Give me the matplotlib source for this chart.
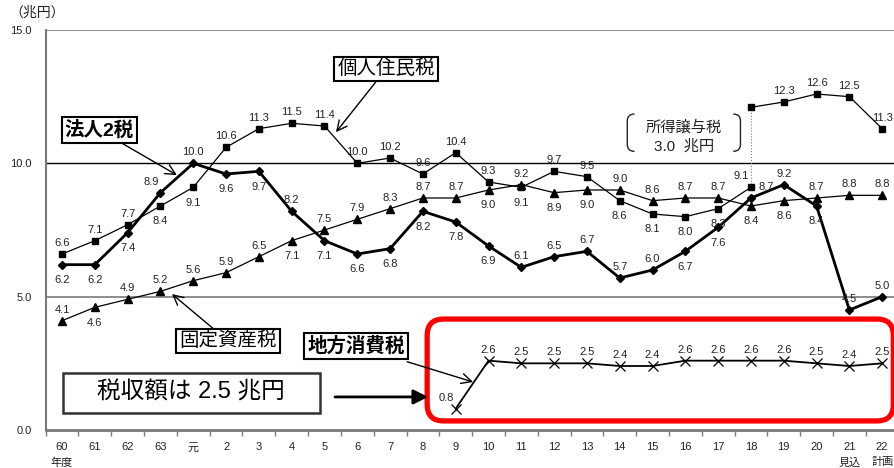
import numpy as np
import matplotlib.pyplot as plt
from matplotlib.patches import FancyBboxPatch, Rectangle, PathPatch
from matplotlib.path import Path

plt.rcParams['font.family'] = ['Liberation Sans', 'Noto Sans CJK JP']

# x categories (fiscal years)
years = ['60\n年度', '61', '62', '63', '元', '2', '3', '4', '5', '6', '7', '8', '9',
         '10', '11', '12', '13', '14', '15', '16', '17', '18', '19', '20',
         '21\n見込', '22\n計画']
nan = np.nan
# 個人住民税
resident = [6.6, 7.1, 7.7, 8.4, 9.1, 10.6, 11.3, 11.5, 11.4, 10.0, 10.2, 9.6, 10.4,
            9.3, 9.1, 9.7, 9.5, 8.6, 8.1, 8.0, 8.3, 9.1, nan, nan, nan, nan]
# 個人住民税 + 所得譲与税
resident_transfer = [nan] * 21 + [12.1, 12.3, 12.6, 12.5, 11.3]
# 法人2税
corporate = [6.2, 6.2, 7.4, 8.9, 10.0, 9.6, 9.7, 8.2, 7.1, 6.6, 6.8, 8.2, 7.8,
             6.9, 6.1, 6.5, 6.7, 5.7, 6.0, 6.7, 7.6, 8.7, 9.2, 8.4, 4.5, 5.0]
# 固定資産税
property_tax = [4.1, 4.6, 4.9, 5.2, 5.6, 5.9, 6.5, 7.1, 7.5, 7.9, 8.3, 8.7, 8.7,
                9.0, 9.2, 8.9, 9.0, 9.0, 8.6, 8.7, 8.7, 8.4, 8.6, 8.7, 8.8, 8.8]
# 地方消費税
consumption = [nan] * 12 + [0.8, 2.6, 2.5, 2.5, 2.5, 2.4, 2.4, 2.6, 2.6, 2.6,
                            2.6, 2.5, 2.4, 2.5]

# label placement: a=above, b=below, al=above left, ar=above right, n=none
resident_pos = ['a', 'a', 'a', 'b', 'b', 'a', 'a', 'a', 'a', 'a', 'a', 'a', 'a',
                'a', 'b', 'a', 'a', 'b', 'b', 'b', 'b', 'al']
transfer_pos = ['n', 'a', 'a', 'a', 'a']
corporate_pos = ['b', 'b', 'b', 'al', 'a', 'b', 'b', 'a', 'b', 'b', 'b', 'b', 'b',
                 'b', 'a', 'a', 'a', 'a', 'a', 'b', 'b', 'ar', 'a', 'b', 'a', 'a']
property_pos = ['a', 'b', 'a', 'a', 'a', 'a', 'a', 'b', 'a', 'a', 'a', 'a', 'a',
                'b', 'a', 'b', 'b', 'a', 'a', 'a', 'a', 'b', 'b', 'a', 'a', 'a']
consumption_pos = ['al'] + ['a'] * 13

offsets = {'a': (0, 8), 'b': (0, -11), 'al': (-7, 8), 'ar': (11, 8)}

x = np.arange(len(years))

fig = plt.figure(figsize=(8.95, 4.68), dpi=100)
ax = fig.add_axes([0.051, 0.0812, 0.953, 0.8547])
ax.set_xlim(-0.5, 25.5)
ax.set_ylim(0, 15)

gray = '#7a7a7a'
ax.axhline(5, color=gray, lw=1.2, zorder=1)
ax.axhline(15, color=gray, lw=1.2, zorder=1)
ax.axhline(10, color='black', lw=1.0, zorder=1)

ax.plot(x, resident, color='black', lw=0.9, marker='s', ms=5, zorder=3)
ax.plot(x, resident_transfer, color='black', lw=0.9, marker='s', ms=5, zorder=3)
ax.vlines(21, resident[21], resident_transfer[21], color=gray, lw=0.8,
          linestyles=':', zorder=2)
ax.plot(x, corporate, color='black', lw=2.0, marker='D', ms=4, zorder=4)
ax.plot(x, property_tax, color='black', lw=0.9, marker='^', ms=6, zorder=3)
ax.plot(x, consumption, color='black', lw=1.3, marker='x', ms=7, mew=0.9, zorder=3)


def put_labels(vals, pos, start=0):
    for i, p in enumerate(pos):
        v = vals[start + i]
        if p == 'n' or np.isnan(v):
            continue
        ax.annotate('%.1f' % v, (start + i, v), xytext=offsets[p],
                    textcoords='offset points', ha='center', va='center',
                    fontsize=8, color='#222222', zorder=5)


put_labels(resident, resident_pos)
put_labels(resident_transfer, transfer_pos, 21)
put_labels(corporate, corporate_pos)
put_labels(property_tax, property_pos)
put_labels(consumption, consumption_pos, 12)

# axes styling
for s in ['top', 'right']:
    ax.spines[s].set_visible(False)
ax.spines['left'].set_color(gray)
ax.spines['left'].set_linewidth(1.5)
ax.spines['bottom'].set_color(gray)
ax.spines['bottom'].set_linewidth(2)
ax.set_yticks([0, 5, 10, 15])
ax.set_yticklabels(['0.0', '5.0', '10.0', '15.0'], fontsize=8, color='#222222')
ax.tick_params(axis='y', length=0, pad=10)
ax.set_xticks(x)
ax.set_xticklabels(years, fontsize=8, color='#222222', linespacing=1.6,
                   va='top')
ax.set_xticks(np.arange(-0.5, 25.6, 1), minor=True)
ax.tick_params(axis='x', which='major', length=0, pad=9)
ax.tick_params(axis='x', which='minor', length=4, width=1, color=gray,
               direction='out')

fig.text(0.010, 0.972, '（兆円）', fontsize=10, color='#222222', va='center')

box = dict(boxstyle='square,pad=0.15', fc='white', ec='black', lw=1.5)
arrow = dict(arrowstyle='->', color='black', lw=1.0, mutation_scale=18,
             shrinkA=0, shrinkB=0)

ax.annotate('法人2税', xy=(3.5, 9.56), xytext=(1.13, 11.25), fontsize=14,
            fontweight='bold', ha='center', va='center', bbox=box,
            arrowprops=arrow, zorder=6)
ax.annotate('個人住民税', xy=(8.35, 11.17), xytext=(9.88, 13.54), fontsize=14,
            ha='center', va='center', bbox=box, arrowprops=arrow, zorder=6)
ax.annotate('固定資産税', xy=(3.35, 5.1), xytext=(5.06, 3.34), fontsize=14,
            ha='center', va='center', bbox=box, arrowprops=arrow, zorder=6)
ax.annotate('地方消費税', xy=(12.53, 1.8), xytext=(8.96, 3.15), fontsize=14,
            fontweight='bold', ha='center', va='center', bbox=box,
            arrowprops=dict(arrow, shrinkA=6), zorder=6)

# 所得譲与税 note with bracket marks
ax.text(18.96, 10.99, '所得譲与税\n3.0  兆円', fontsize=11, ha='center',
        va='center', linespacing=1.4, color='#222222', zorder=6)
bx0, bx1, by0, by1 = 17.23, 20.68, 10.45, 11.85
r = 0.22
for xe, d in [(bx0, 1), (bx1, -1)]:
    verts = [(xe + d * r, by1), (xe, by1), (xe, by1 - r * 1.2),
             (xe, by0 + r * 1.2), (xe, by0), (xe + d * r, by0)]
    codes = [Path.MOVETO, Path.CURVE3, Path.CURVE3, Path.LINETO,
             Path.CURVE3, Path.CURVE3]
    ax.add_patch(PathPatch(Path(verts, codes), fc='none', ec='#222222',
                           lw=1.0, zorder=6))

# tax revenue box and thick arrow
ax.add_patch(Rectangle((0.03, 0.64), 7.83, 1.5, fc='white', ec='#333333',
                       lw=1.8, zorder=6))
ax.text(3.93, 1.39, '税収額は 2.5 兆円', fontsize=17, ha='center',
        va='center', zorder=7)
ax.annotate('', xy=(11.16, 1.24), xytext=(8.32, 1.24),
            arrowprops=dict(arrowstyle='-|>', color='black', lw=2.0,
                            mutation_scale=22, shrinkA=0, shrinkB=0),
            zorder=6)

# red rounded frame
ax.add_patch(FancyBboxPatch((11.13, 0.34), 14.21, 3.82,
                            boxstyle='round,pad=0,rounding_size=0.5',
                            mutation_aspect=1.23, fc='none', ec='#ff0000',
                            lw=3.8, zorder=5, clip_on=False))

fig.savefig('out.png', dpi=100)
